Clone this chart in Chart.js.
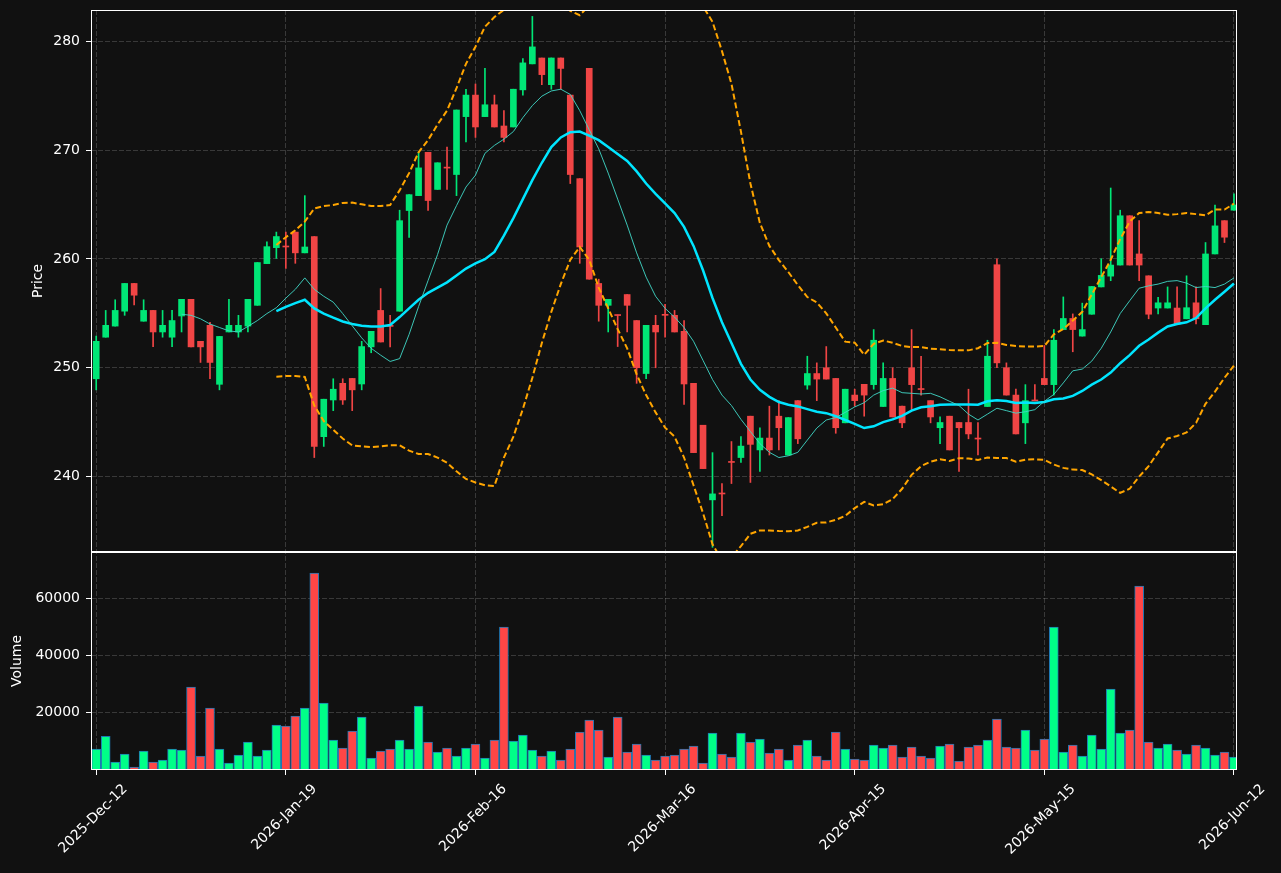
<!DOCTYPE html>
<html>
<head>
<meta charset="utf-8">
<script src="https://cdn.jsdelivr.net/npm/chart.js@4.4.1/dist/chart.umd.min.js"></script>
<style>
  html, body { margin: 0; padding: 0; background: #111111; }
  canvas { display: block; }
</style>
</head>
<body>
<canvas id="chart" width="1281" height="873"></canvas>
<script>
// daily candles, index 0 = 2025-Dec-12
const opens = [
  248.99, 252.81, 253.83, 255.20, 257.75, 254.28, 255.27, 253.29, 252.81, 254.76,
  256.29, 252.43, 253.90, 248.48, 253.29, 253.29, 253.83, 255.74, 259.57, 261.04,
  261.15, 262.47, 260.56, 262.06, 243.67, 247.04, 248.57, 249.02, 248.51, 251.92,
  255.27, 253.90, 255.20, 264.45, 265.82, 269.80, 266.39, 268.40, 267.76, 273.08,
  275.06, 273.08, 274.17, 272.22, 272.13, 275.54, 277.93, 278.47, 276.02, 278.47,
  275.06, 267.38, 277.51, 257.75, 255.74, 254.85, 256.73, 254.34, 249.47, 253.90,
  254.85, 254.82, 253.35, 248.57, 244.72, 237.86, 238.45, 241.35, 241.75, 245.55,
  242.45, 243.54, 245.55, 241.98, 246.98, 248.41, 249.47, 250.00, 249.02, 244.94,
  247.49, 248.48, 248.45, 246.44, 249.02, 246.47, 250.00, 248.05, 246.98, 244.49,
  245.55, 244.97, 244.97, 243.50, 246.44, 259.47, 250.00, 247.49, 244.94, 247.00,
  249.02, 248.45, 253.51, 254.53, 252.91, 254.92, 257.43, 258.42, 259.44, 263.97,
  260.46, 258.45, 255.49, 255.49, 255.49, 254.50, 255.97, 253.96, 260.46, 263.52,
  264.48
];
const highs = [
  252.91, 255.27, 256.25, 257.75, 257.75, 256.25, 255.27, 255.27, 255.27, 256.29,
  256.29, 252.43, 254.18, 252.88, 256.29, 254.82, 256.29, 259.67, 261.58, 262.47,
  262.47, 262.47, 265.82, 262.06, 247.11, 248.99, 248.99, 249.02, 252.43, 253.35,
  257.28, 254.82, 264.48, 265.91, 269.80, 269.80, 268.84, 270.28, 273.69, 275.60,
  276.08, 277.51, 275.06, 273.63, 275.60, 278.41, 282.29, 278.47, 278.47, 278.47,
  275.06, 267.38, 277.51, 258.14, 256.29, 254.85, 256.73, 254.34, 253.90, 254.82,
  255.84, 255.27, 254.34, 248.57, 244.72, 242.20, 239.36, 243.22, 243.67, 245.55,
  244.49, 246.47, 246.98, 245.42, 246.98, 251.06, 250.45, 251.95, 249.02, 248.03,
  248.03, 248.48, 253.51, 250.45, 250.00, 246.47, 253.51, 251.06, 246.98, 245.48,
  245.55, 244.97, 248.03, 244.97, 252.53, 260.02, 250.45, 248.03, 248.45, 248.45,
  252.05, 253.51, 256.51, 254.95, 255.94, 257.47, 260.02, 266.52, 264.48, 263.97,
  263.52, 258.45, 256.48, 257.43, 257.43, 258.45, 257.43, 261.51, 264.96, 263.52,
  265.98
];
const lows = [
  247.97, 252.81, 253.83, 254.82, 255.78, 254.28, 251.95, 252.81, 251.95, 253.29,
  251.92, 250.49, 248.99, 247.97, 253.29, 252.81, 253.29, 255.74, 259.57, 260.05,
  259.12, 259.60, 260.56, 241.75, 242.77, 246.06, 246.63, 246.06, 247.97, 251.38,
  252.37, 251.92, 255.20, 261.99, 265.82, 264.45, 266.39, 266.39, 265.82, 270.76,
  271.17, 273.08, 272.13, 270.76, 272.13, 275.06, 277.93, 276.02, 275.60, 275.60,
  266.93, 259.60, 258.14, 254.28, 253.29, 251.95, 253.29, 248.57, 248.99, 250.00,
  252.81, 253.29, 246.63, 242.20, 240.73, 233.50, 236.40, 239.36, 241.30, 239.46,
  240.48, 241.98, 242.45, 241.98, 243.03, 248.03, 246.98, 248.96, 243.98, 244.94,
  246.47, 245.55, 248.03, 246.44, 245.48, 244.49, 246.06, 247.49, 244.94, 243.03,
  242.45, 240.48, 243.47, 241.98, 246.44, 250.00, 247.49, 243.92, 243.03, 246.95,
  248.45, 247.49, 253.51, 251.47, 252.91, 254.92, 257.43, 258.00, 259.44, 259.44,
  258.00, 254.50, 254.95, 255.49, 254.02, 254.50, 254.02, 253.96, 260.46, 261.51,
  264.48
];
const closes = [
  252.43, 253.90, 255.27, 257.75, 256.67, 255.27, 253.29, 253.90, 254.34, 256.29,
  251.92, 251.92, 250.49, 252.88, 253.90, 253.90, 256.29, 259.67, 261.13, 262.06,
  261.10, 260.56, 261.10, 242.77, 247.11, 248.03, 247.04, 247.97, 251.95, 253.35,
  252.37, 253.80, 263.52, 265.91, 268.37, 265.37, 268.84, 268.35, 273.69, 275.06,
  272.13, 274.17, 272.13, 271.17, 275.60, 278.02, 279.49, 276.94, 278.47, 277.51,
  267.76, 261.10, 258.14, 255.74, 256.29, 254.80, 255.74, 250.00, 253.90, 253.29,
  254.82, 253.29, 248.51, 242.20, 240.73, 238.41, 238.40, 241.30, 242.80, 242.96,
  243.54, 242.45, 244.49, 245.42, 243.47, 249.47, 248.96, 248.96, 244.49, 248.03,
  246.98, 247.49, 252.53, 249.02, 245.48, 244.94, 248.45, 248.00, 245.48, 244.97,
  242.45, 244.49, 243.92, 243.45, 251.06, 250.45, 247.49, 243.92, 246.98, 246.95,
  248.45, 252.53, 254.53, 253.51, 253.51, 257.47, 258.49, 259.44, 263.97, 259.44,
  259.44, 254.92, 255.97, 255.97, 254.02, 255.52, 254.50, 260.46, 263.04, 262.00,
  264.96
];
const volumes = [
  7327, 11746, 2791, 5582, 1047, 6629, 2791, 3489, 7327, 6978,
  28959, 4885, 21632, 7327, 2442, 5234, 9769, 4885, 6978, 15700,
  15352, 18841, 21632, 68733, 23376, 10467, 7676, 13607, 18492, 4187,
  6629, 7327, 10467, 7327, 22330, 9769, 6280, 7676, 4885, 7676,
  9071, 4187, 10467, 49893, 10118, 12212, 6978, 4885, 6629, 3489,
  7327, 13258, 17445, 13956, 4536, 18492, 6280, 9071, 5234, 3489,
  4885, 5234, 7327, 8374, 2442, 12909, 5582, 4536, 12909, 9769,
  10816, 5931, 7327, 3489, 8723, 10467, 4885, 3489, 13258, 7327,
  3838, 3489, 8723, 7676, 8723, 4536, 8025, 4885, 4187, 8374,
  9071, 3140, 8025, 8723, 10467, 17794, 8025, 7676, 13956, 6978,
  10816, 49893, 6280, 8723, 4885, 12212, 7327, 28261, 12909, 13956,
  64198, 9769, 7676, 9071, 6978, 5582, 8723, 7676, 5234, 6280,
  4536
];

// overlays
const ma10Start = 9;
const ma10 = [
  254.92, 254.82, 254.50, 254.02, 253.70, 253.39, 253.29, 253.80, 254.34, 254.98,
  255.52, 256.40, 257.21, 258.26, 257.21, 256.57, 256.03, 254.98, 253.86, 252.75,
  251.79, 251.16, 250.58, 250.84, 253.07, 255.62, 258.01, 260.40, 263.11, 264.90,
  266.61, 267.70, 269.71, 270.44, 271.01, 271.71, 272.99, 274.10, 274.96, 275.44,
  275.60, 275.12, 273.63, 271.87, 270.12, 267.89, 265.50, 263.11, 260.56, 258.33,
  256.57, 255.46, 254.66, 253.70, 252.43, 250.68, 248.92, 247.49, 246.53, 245.26,
  244.14, 243.03, 242.23, 241.75, 241.91, 242.23, 243.35, 244.46, 245.20, 245.42,
  245.90, 246.40, 246.79, 247.49, 247.90, 248.13, 247.71, 247.65, 247.59, 247.65,
  247.33, 246.92, 246.53, 245.74, 245.20, 245.74, 246.28, 246.06, 245.83, 245.96,
  246.15, 246.92, 247.55, 248.61, 249.72, 249.88, 250.61, 251.79, 253.29, 254.98,
  256.16, 257.31, 257.53, 257.69, 257.94, 258.01, 257.78, 257.37, 257.47, 257.37,
  257.69, 258.26
];
const ma20Start = 19;
const ma20 = [
  255.20, 255.60, 255.94, 256.25, 255.46, 254.98, 254.60, 254.25, 254.02, 253.86,
  253.80, 253.80, 253.93, 254.66, 255.46, 256.25, 256.89, 257.37, 257.85, 258.49,
  259.12, 259.60, 259.98, 260.65, 262.15, 263.75, 265.50, 267.25, 268.84, 270.28,
  271.17, 271.65, 271.71, 271.33, 270.92, 270.28, 269.64, 269.00, 268.05, 266.93,
  265.98, 265.10, 264.22, 262.95, 261.20, 258.96, 256.41, 254.18, 252.27, 250.36,
  248.92, 247.97, 247.33, 246.85, 246.60, 246.45, 246.20, 245.96, 245.83, 245.55,
  245.20, 244.85, 244.46, 244.62, 245.00, 245.26, 245.58, 246.06, 246.37, 246.47,
  246.60, 246.63, 246.63, 246.63, 246.60, 246.92, 247.01, 246.95, 246.76, 246.80,
  246.76, 246.85, 247.11, 247.17, 247.42, 247.87, 248.45, 248.92, 249.56, 250.42,
  251.16, 252.02, 252.59, 253.23, 253.80, 254.02, 254.18, 254.57, 255.46, 256.25,
  256.99, 257.75
];
const bandStart = 19;
const bbUpper = [
  261.29, 262.00, 262.63, 263.43, 264.64, 264.86, 264.96, 265.15, 265.18, 265.02,
  264.86, 264.86, 264.96, 266.30, 267.89, 269.80, 270.92, 272.35, 273.63, 275.70,
  277.93, 279.50, 281.34, 282.23, 282.90, 284.00, 285.00, 285.30, 285.00, 284.50,
  283.70, 282.80, 282.40, 283.30, 284.50, 285.50, 286.50, 287.50, 288.00, 288.00,
  287.50, 287.00, 286.00, 285.00, 284.00, 283.20, 281.80, 279.10, 276.10, 271.70,
  266.93, 263.30, 261.20, 259.90, 258.80, 257.60, 256.50, 256.00, 255.00, 253.70,
  252.40, 252.30, 251.20, 252.20, 252.50, 252.30, 252.00, 251.90, 251.90, 251.75,
  251.70, 251.63, 251.60, 251.60, 251.80, 252.27, 252.30, 252.10, 252.00, 251.95,
  251.95, 252.00, 253.07, 253.55, 254.34, 255.14, 256.73, 258.33, 259.92, 261.83,
  263.43, 264.22, 264.32, 264.22, 264.06, 264.12, 264.22, 264.12, 264.00, 264.54,
  264.54, 265.08
];
const bbLower = [
  249.18, 249.24, 249.24, 249.15, 246.53, 245.10, 244.30, 243.50, 242.87, 242.77,
  242.71, 242.77, 242.87, 242.87, 242.39, 242.07, 242.07, 241.75, 241.27, 240.48,
  239.78, 239.46, 239.20, 239.14, 241.75, 243.67, 246.21, 249.08, 252.27, 255.14,
  257.69, 259.92, 261.10, 259.92, 257.37, 255.46, 253.55, 251.79, 249.40, 247.49,
  245.90, 244.50, 243.67, 241.75, 239.20, 236.65, 233.78, 232.30, 232.60, 233.60,
  234.74, 235.05, 235.05, 235.00, 234.97, 235.05, 235.38, 235.76, 235.79, 236.02,
  236.40, 237.10, 237.67, 237.35, 237.45, 237.93, 238.88, 240.16, 240.96, 241.37,
  241.59, 241.43, 241.69, 241.66, 241.53, 241.75, 241.70, 241.70, 241.37, 241.56,
  241.59, 241.53, 241.11, 240.80, 240.64, 240.60, 240.20, 239.68, 239.10, 238.50,
  238.88, 240.00, 240.96, 242.23, 243.50, 243.73, 244.05, 244.94, 246.69, 247.81,
  249.08, 250.20
];

const tickIndex = [0, 20, 40, 60, 80, 100, 120];
const tickLabels = ['2025-Dec-12', '2026-Jan-19', '2026-Feb-16', '2026-Mar-16',
                    '2026-Apr-15', '2026-May-15', '2026-Jun-12'];
const priceTicks = [240, 250, 260, 270, 280];
const volumeTicks = [20000, 40000, 60000];

const UP = '#00e676', DOWN = '#f04545';
const VOL_UP = '#00ff88', VOL_DOWN = '#ff4646';
const FONT = { family: 'DejaVu Sans', size: 14 };
const GRID = 'rgba(255,255,255,0.17)';

const isUp = closes.map((c, i) => c >= opens[i]);
const candleColors = isUp.map(u => u ? UP : DOWN);
const volColors = isUp.map(u => u ? VOL_UP : VOL_DOWN);
const series = (arr, start) => arr.map((v, k) => ({ x: k + start, y: v }));

const panelPlugin = {
  id: 'panels',
  beforeDraw(chart) {
    const ctx = chart.ctx;
    ctx.save();
    ctx.fillStyle = '#111111';
    ctx.fillRect(0, 0, chart.width, chart.height);
    ctx.restore();
  },
  beforeDatasetDraw(chart, args) {
    const s = chart.scales[args.meta.yAxisID];
    const a = chart.chartArea;
    chart.ctx.save();
    chart.ctx.beginPath();
    chart.ctx.rect(a.left, s.top, a.right - a.left, s.bottom - s.top);
    chart.ctx.clip();
  },
  afterDatasetDraw(chart) {
    chart.ctx.restore();
  },
  afterDraw(chart) {
    const ctx = chart.ctx, a = chart.chartArea;
    ctx.save();
    ctx.strokeStyle = '#ffffff';
    ctx.lineWidth = 1;
    ['y', 'yv'].forEach(id => {
      const s = chart.scales[id];
      ctx.strokeRect(Math.round(a.left) + 0.5, Math.round(s.top) + 0.5,
                     Math.round(a.right - a.left) - 1, Math.round(s.bottom - s.top) - 1);
    });
    ctx.restore();
  }
};

const lineStyle = { type: 'line', pointRadius: 0, tension: 0, fill: false, yAxisID: 'y' };
const yFit = s => { s.width = 91; s.paddingTop = 0; s.paddingBottom = 0; };

new Chart(document.getElementById('chart'), {
  type: 'bar',
  data: {
    datasets: [
      { ...lineStyle, label: 'MA10', data: series(ma10, ma10Start),
        borderColor: 'rgba(64,216,200,0.9)', borderWidth: 1, order: 1 },
      { ...lineStyle, label: 'MA20', data: series(ma20, ma20Start),
        borderColor: '#00e5ff', borderWidth: 2.5, order: 1 },
      { ...lineStyle, label: 'BB upper', data: series(bbUpper, bandStart),
        borderColor: '#ffa500', borderWidth: 2, borderDash: [6, 3], order: 1 },
      { ...lineStyle, label: 'BB lower', data: series(bbLower, bandStart),
        borderColor: '#ffa500', borderWidth: 2, borderDash: [6, 3], order: 1 },
      { label: 'body', yAxisID: 'y', grouped: false, order: 2,
        data: opens.map((o, i) => ({ x: i, y: [o, closes[i]] })),
        backgroundColor: candleColors, barThickness: 6, minBarLength: 1 },
      { label: 'wick', yAxisID: 'y', grouped: false, order: 3,
        data: lows.map((l, i) => ({ x: i, y: [l, highs[i]] })),
        backgroundColor: candleColors, barThickness: 1 },
      { label: 'Volume', yAxisID: 'yv', grouped: false, order: 4,
        data: volumes.map((v, i) => ({ x: i, y: v })),
        backgroundColor: volColors, borderColor: '#1f77b4', borderWidth: 1,
        borderSkipped: false, barThickness: 9 }
    ]
  },
  options: {
    responsive: false,
    animation: false,
    layout: { padding: { top: 10, right: 44, left: 0, bottom: 0 } },
    plugins: { legend: { display: false }, tooltip: { enabled: false } },
    scales: {
      x: {
        type: 'linear',
        min: -0.55,
        max: 120.32,
        offset: false,
        afterFit: s => { s.height = 103; },
        afterBuildTicks: s => { s.ticks = tickIndex.map(v => ({ value: v })); },
        ticks: {
          autoSkip: false, minRotation: 45, maxRotation: 45,
          labelOffset: 29, padding: 6,
          color: '#ffffff', font: FONT,
          callback: (v, i) => tickLabels[i]
        },
        grid: { offset: false, color: GRID, lineWidth: 1, tickLength: 5,
                tickColor: '#ffffff', tickBorderDash: [] },
        border: { display: false, dash: [5, 2] }
      },
      y: {
        type: 'linear',
        position: 'left',
        stack: 'panels',
        stackWeight: 2.486,
        weight: 2,
        min: 233.07,
        max: 282.88,
        afterFit: yFit,
        afterBuildTicks: s => { s.ticks = priceTicks.map(v => ({ value: v })); },
        ticks: { color: '#ffffff', font: FONT, padding: 6, callback: v => String(v) },
        grid: { color: GRID, lineWidth: 1, tickLength: 5, tickColor: '#ffffff', tickBorderDash: [] },
        border: { display: false, dash: [5, 2] },
        title: { display: true, text: 'Price', color: '#ffffff', font: FONT,
                 padding: { top: 29.6, bottom: 0 } }
      },
      yv: {
        type: 'linear',
        position: 'left',
        stack: 'panels',
        stackWeight: 1,
        weight: 1,
        min: 0,
        max: 76100,
        afterFit: yFit,
        afterBuildTicks: s => { s.ticks = volumeTicks.map(v => ({ value: v })); },
        ticks: { color: '#ffffff', font: FONT, padding: 6, callback: v => String(v) },
        grid: { color: GRID, lineWidth: 1, tickLength: 5, tickColor: '#ffffff', tickBorderDash: [] },
        border: { display: false, dash: [5, 2] },
        title: { display: true, text: 'Volume', color: '#ffffff', font: FONT,
                 padding: { top: 8.6, bottom: 0 } }
      }
    }
  },
  plugins: [panelPlugin]
});
</script>
</body>
</html>
